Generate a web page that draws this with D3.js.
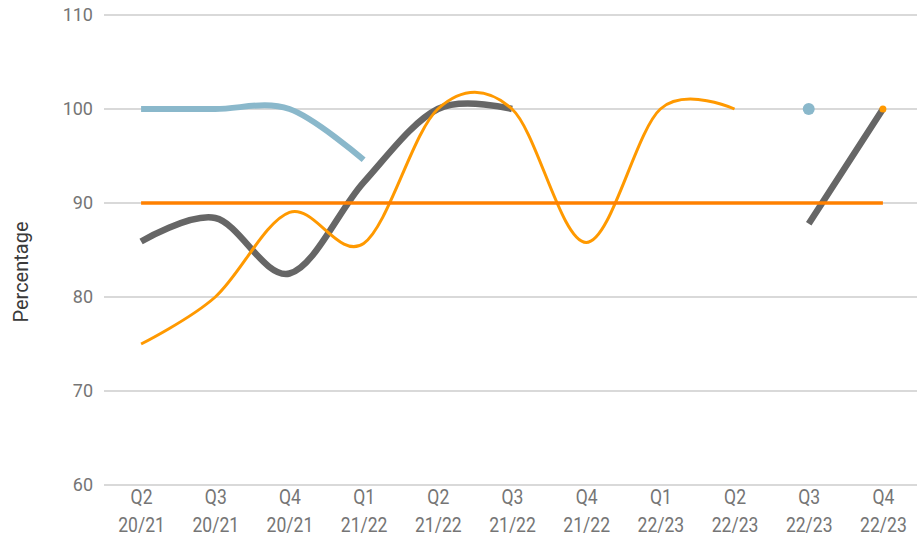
<!DOCTYPE html>
<html>
<head>
<meta charset="utf-8">
<script src="https://cdn.jsdelivr.net/npm/d3@7"></script>
<style>
  html, body { margin: 0; padding: 0; background: #fff; }
  svg { display: block; font-family: Roboto, "Noto Sans", sans-serif; }
</style>
</head>
<body>
<svg id="chart" width="917" height="544"></svg>
<script>
// Quarter labels (quarter / financial year)
const categories = ["Q2 20/21", "Q3 20/21", "Q4 20/21", "Q1 21/22", "Q2 21/22", "Q3 21/22",
                    "Q4 21/22", "Q1 22/23", "Q2 22/23", "Q3 22/23", "Q4 22/23"];

// Series values (percentage); null = no data for that quarter
const seriesBlue   = [100, 100, 100, 94.6, null, null, null, null, null, 100, null];
const seriesGrey   = [85.9, 88.4, 82.5, 92.2, 100, 100, null, null, null, 87.8, 100];
const seriesOrange = [75, 80, 89, 85.7, 100, 100, 85.8, 100, 100, null, 100];
const targetLine   = [90, 90, 90, 90, 90, 90, 90, 90, 90, 90, 90];

const yTicks = [60, 70, 80, 90, 100, 110];
const yTitle = "Percentage";

const svg = d3.select("#chart");

const x = d3.scalePoint().domain(categories).range([104, 920]).padding(0.5);
const y = d3.scaleLinear().domain([60, 110]).range([485, 15]);

// Horizontal gridlines
svg.append("g")
  .selectAll("line")
  .data(yTicks)
  .join("line")
  .attr("x1", 104).attr("x2", 917)
  .attr("y1", d => y(d)).attr("y2", d => y(d))
  .attr("stroke", "#cccccc").attr("stroke-width", 1.5);

// Y axis tick labels
const yAxis = svg.append("g")
  .attr("transform", "translate(104,0)")
  .call(d3.axisLeft(y).tickValues(yTicks).tickSize(0).tickPadding(11));
yAxis.select(".domain").remove();
yAxis.selectAll("text")
  .attr("fill", "#757575")
  .style("font-size", "18px")
  .style("font-family", "Roboto, sans-serif");

// X axis labels, two lines each, slightly narrowed
const xAxis = svg.append("g")
  .attr("transform", "translate(0,485)")
  .call(d3.axisBottom(x).tickSize(0).tickFormat(""));
xAxis.select(".domain").remove();
xAxis.selectAll(".tick").each(function(d) {
  const parts = d.split(" ");
  const t = d3.select(this).append("text")
    .attr("fill", "#757575")
    .attr("text-anchor", "middle")
    .attr("transform", "scale(0.9,1)")
    .style("font-size", "19.5px")
    .style("font-family", "Roboto, sans-serif");
  t.append("tspan").attr("x", 0).attr("y", 19.5).text(parts[0]);
  t.append("tspan").attr("x", 0).attr("y", 47.5).text(parts[1]);
});

// Y axis title
svg.append("text")
  .attr("transform", "translate(28,272) rotate(-90)")
  .attr("text-anchor", "middle")
  .attr("fill", "#3a3a3a")
  .style("font-size", "20px")
  .text(yTitle);

const line = d3.line()
  .defined(d => d.v != null)
  .x(d => x(d.c))
  .y(d => y(d.v))
  .curve(d3.curveCardinal.tension(0));

function drawSeries(values, color, width, dotR) {
  const pts = values.map((v, i) => ({ c: categories[i], v }));
  svg.append("path")
    .datum(pts)
    .attr("d", line)
    .attr("fill", "none")
    .attr("stroke", color)
    .attr("stroke-width", width);
  // Isolated points (no neighbour on either side) are drawn as dots
  const lonely = pts.filter((p, i) => p.v != null &&
    (i === 0 || pts[i - 1].v == null) && (i === pts.length - 1 || pts[i + 1].v == null));
  svg.append("g").selectAll("circle")
    .data(lonely)
    .join("circle")
    .attr("cx", d => x(d.c)).attr("cy", d => y(d.v))
    .attr("r", dotR)
    .attr("fill", color);
}

drawSeries(seriesBlue, "#8ab8cb", 6, 6);
drawSeries(seriesGrey, "#666666", 6.5, 6);
drawSeries(seriesOrange, "#ff9900", 3, 3.5);
drawSeries(targetLine, "#ff8000", 3.5, 3);
</script>
</body>
</html>
